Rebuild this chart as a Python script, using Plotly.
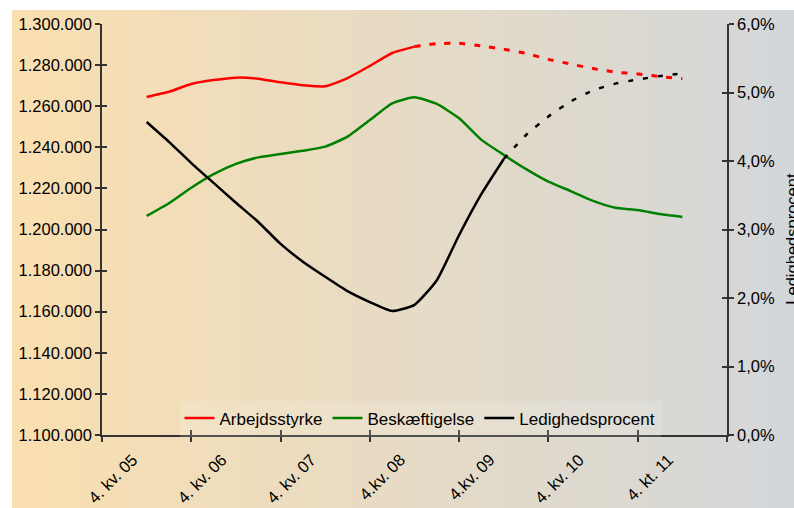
import plotly.graph_objects as go

# ---------------- data ----------------
quarters = list(range(25))  # 0 = 4. kv. 05 ... 24 = 4. kv. 11
tick_positions = [0, 4, 8, 12, 16, 20, 24]
tick_labels = ["4. kv. 05", "4. kv. 06", "4. kv. 07", "4.kv. 08", "4.kv. 09", "4. kv. 10", "4. kt. 11"]

arbejdsstyrke = [1264500, 1267000, 1270800, 1272700, 1273900, 1273400, 1271600, 1270200,
                 1269700, 1273700, 1279600, 1285900, 1289000, 1290400, 1290600, 1289300,
                 1287700, 1285700, 1282800, 1280500, 1278300, 1276600, 1275700, 1274400, 1273400]
beskaeftigelse = [1206600, 1212800, 1220300, 1226900, 1231900, 1235100, 1236700, 1238300,
                  1240300, 1245200, 1253300, 1261400, 1264300, 1261100, 1254100, 1243600,
                  1236300, 1229400, 1223300, 1218700, 1213900, 1210600, 1209500, 1207500, 1206100]
ledighed = [0.0457, 0.0428, 0.0397, 0.0368, 0.0339, 0.0311, 0.0279, 0.0253,
            0.0231, 0.0210, 0.0194, 0.0181, 0.0190, 0.0226, 0.0292, 0.0352,
            0.0403, 0.0438, 0.0465, 0.0487, 0.0503, 0.0513, 0.0519, 0.0524, 0.0528]

arb_last_actual = 12   # forecast (dashed) from here
led_last_actual = 16

FONT = "Liberation Sans, Arial, sans-serif"
FS = 16.5
AXC = "#333333"
SM = 0.5

fig = go.Figure()

fig.add_trace(go.Scatter(x=quarters[:arb_last_actual + 1], y=arbejdsstyrke[:arb_last_actual + 1],
                         mode="lines", name="Arbejdsstyrke", line=dict(color="#ff0000", width=2.5, shape="spline", smoothing=SM)))
fig.add_trace(go.Scatter(x=quarters[arb_last_actual:], y=arbejdsstyrke[arb_last_actual:],
                         mode="lines", showlegend=False, line=dict(color="#ff0000", width=3, dash="6px,9px", shape="spline", smoothing=SM)))
fig.add_trace(go.Scatter(x=quarters, y=beskaeftigelse, mode="lines", name="Beskæftigelse",
                         line=dict(color="#008000", width=2.5, shape="spline", smoothing=SM)))
fig.add_trace(go.Scatter(x=quarters[:led_last_actual + 1], y=ledighed[:led_last_actual + 1], yaxis="y2",
                         mode="lines", name="Ledighedsprocent", line=dict(color="#000000", width=2.5, shape="spline", smoothing=SM)))
fig.add_trace(go.Scatter(x=quarters[led_last_actual:], y=ledighed[led_last_actual:], yaxis="y2",
                         mode="lines", showlegend=False, line=dict(color="#000000", width=2.5, dash="5px,10px", shape="spline", smoothing=SM)))

# dummy traces so the overlay tick axes are drawn
fig.add_trace(go.Scatter(x=[None], y=[None], xaxis="x2", yaxis="y3", showlegend=False, hoverinfo="skip"))
fig.add_trace(go.Scatter(x=[None], y=[None], xaxis="x", yaxis="y4", showlegend=False, hoverinfo="skip"))

# gradient background (strips)
left_c = (250, 223, 176)
right_c = (211, 215, 218)
x_lo, x_hi = -0.144, 1.11
n = 160
shapes = []
for k in range(n):
    t = k / (n - 1)
    c = tuple(round(left_c[j] + (right_c[j] - left_c[j]) * t) for j in range(3))
    x0 = x_lo + (x_hi - x_lo) * k / n
    x1 = x_lo + (x_hi - x_lo) * (k + 1.3) / n
    shapes.append(dict(type="rect", xref="paper", yref="paper", x0=x0, x1=x1, y0=-0.25, y1=1.034,
                       fillcolor="rgb(%d,%d,%d)" % c, line=dict(width=0), layer="below"))

box_range = [-2, 26]
fig.update_layout(
    width=794, height=508,
    margin=dict(l=102, r=67, t=24, b=73, autoexpand=False),
    paper_bgcolor="white", plot_bgcolor="rgba(0,0,0,0)",
    separators=",.",
    font=dict(family=FONT, size=FS, color="black"),
    shapes=shapes,
    showlegend=True,
    legend=dict(orientation="h", x=0.124, xanchor="left", y=0.04, yanchor="middle",
                bgcolor="rgba(255,255,255,0.15)", font=dict(size=17), tracegroupgap=0),
    xaxis=dict(range=box_range, tickvals=tick_positions, ticktext=tick_labels, ticks="",
               tickangle=-45, showline=True, linecolor=AXC, linewidth=1.5, showgrid=False,
               zeroline=False, tickfont=dict(size=FS), ticklabelstandoff=7, ticklabelshift=-14,
               automargin=False,
               minor=dict(ticks="outside", tick0=-2, dtick=4, ticklen=5, tickcolor=AXC,
                          tickwidth=1.5, showgrid=False)),
    xaxis2=dict(range=box_range, overlaying="x", tickvals=[-2, 2, 6, 10, 14, 18, 22, 26],
                ticks="inside", ticklen=5, tickcolor=AXC, tickwidth=1.5, showticklabels=False,
                showline=False, showgrid=False, zeroline=False, automargin=False),
    yaxis=dict(range=[1100000, 1300000], dtick=20000, tickformat=",d", ticks="outside",
               ticklen=5, tickcolor=AXC, tickwidth=1.5, showline=True, linecolor=AXC,
               linewidth=1.5, showgrid=False, zeroline=False, automargin=False),
    yaxis2=dict(range=[0, 0.06], dtick=0.01, tickformat=".1%", overlaying="y", side="right",
                ticks="outside", ticklen=5, tickcolor=AXC, tickwidth=1.5, showline=True,
                linecolor=AXC, linewidth=1.5, showgrid=False, zeroline=False, automargin=False),
    yaxis3=dict(range=[1100000, 1300000], dtick=20000, overlaying="y", side="left",
                ticks="inside", ticklen=5, tickcolor=AXC, tickwidth=1.5, showticklabels=False,
                showline=False, showgrid=False, zeroline=False, automargin=False),
    yaxis4=dict(range=[0, 0.06], dtick=0.01, overlaying="y", side="right",
                ticks="inside", ticklen=5, tickcolor=AXC, tickwidth=1.5, showticklabels=False,
                showline=False, showgrid=False, zeroline=False, automargin=False),
    annotations=[dict(text="Ledighedsprocent", xref="paper", yref="paper", x=1.085, y=0.478,
                      xanchor="left", yanchor="middle", textangle=-90, showarrow=False,
                      font=dict(size=FS, family=FONT, color="black"))],
)

fig.write_html("out.html", config={"displayModeBar": False},
               post_script="document.body.style.margin='0';")
